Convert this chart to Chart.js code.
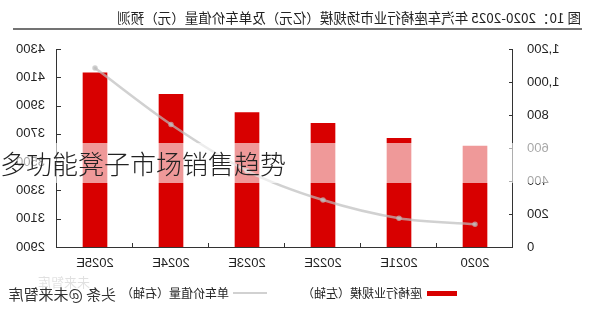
<!DOCTYPE html>
<html>
<head>
<meta charset="utf-8">
<script src="https://cdn.jsdelivr.net/npm/chart.js@4/dist/chart.umd.min.js"></script>
<style>
  body { margin: 0; background: #fff; }
  #wrap { position: relative; width: 600px; height: 315px; overflow: hidden; }
  /* the source picture is a mirrored scan, so the chart is flipped left-right */
  #chart { position: absolute; left: 0; top: 0; transform: scaleX(-1); }
  #band {
    position: absolute; left: 0; top: 143px; width: 600px; height: 40px;
    background: rgba(255, 255, 255, 0.6);
    font-family: "Noto Sans CJK SC", sans-serif; font-size: 26px; font-weight: 300;
    line-height: 40px; color: #222; white-space: nowrap;
  }
</style>
</head>
<body>
<div id="wrap">
  <canvas id="chart" width="600" height="315"></canvas>
  <div id="band">多功能凳子市场销售趋势</div>
</div>
<script>
const categories = ["2020", "2021E", "2022E", "2023E", "2024E", "2025E"];
const marketSize = [612, 659, 750, 814, 925, 1055]; // 座椅行业规模 (亿元), left axis
const unitValue = [3061, 3104, 3232, 3439, 3766, 4165]; // 单车价值量 (元), right axis
const titleText = "图 10：2020-2025 年汽车座椅行业市场规模（亿元）及单车价值量（元）预测";
const sizeLabel = "座椅行业规模（左轴）";
const valueLabel = "单车价值量（右轴）";

const RED = "#d80000";
const GREY = "rgba(190,190,190,0.7)";
const INK = "#222";

Chart.defaults.font.family = 'Arial, "Liberation Sans", "Noto Sans CJK SC", sans-serif';
Chart.defaults.color = INK;

// title, underline, legend, watermark and the inward tick marks
const decorations = {
  id: "decorations",
  afterDraw(chart) {
    const ctx = chart.ctx;
    const area = chart.chartArea;
    ctx.save();

    ctx.strokeStyle = "#333";
    ctx.lineWidth = 1;
    const yL = chart.scales.y;
    yL.ticks.forEach((t) => {
      const py = Math.round(yL.getPixelForValue(t.value)) + 0.5;
      ctx.beginPath(); ctx.moveTo(area.left, py); ctx.lineTo(area.left + 4, py); ctx.stroke();
    });
    const yR = chart.scales.y1;
    yR.ticks.forEach((t) => {
      const py = Math.round(yR.getPixelForValue(t.value)) + 0.5;
      ctx.beginPath(); ctx.moveTo(area.right, py); ctx.lineTo(area.right - 4, py); ctx.stroke();
    });
    const step = (area.right - area.left) / categories.length;
    for (let i = 1; i < categories.length; i++) {
      const px = Math.round(area.left + i * step) + 0.5;
      ctx.beginPath(); ctx.moveTo(px, area.bottom); ctx.lineTo(px, area.bottom - 4); ctx.stroke();
    }

    ctx.fillStyle = INK;
    ctx.textBaseline = "middle";
    ctx.textAlign = "left";
    ctx.font = '13.5px "Noto Sans CJK SC", sans-serif';
    ctx.fillText(titleText, 19, 18);
    ctx.strokeStyle = "#444";
    ctx.lineWidth = 1.5;
    ctx.beginPath(); ctx.moveTo(18, 29); ctx.lineTo(587, 29); ctx.stroke();

    // legend
    ctx.font = '12px "Noto Sans CJK SC", sans-serif';
    ctx.fillStyle = RED;
    ctx.fillRect(143, 291, 30, 5);
    ctx.fillStyle = INK;
    ctx.fillText(chart.data.datasets[0].label, 178, 293);
    ctx.strokeStyle = GREY;
    ctx.lineWidth = 2;
    ctx.beginPath(); ctx.moveTo(333, 293); ctx.lineTo(367, 293); ctx.stroke();
    ctx.fillText(chart.data.datasets[1].label, 371, 293);

    // watermark
    ctx.fillStyle = "rgba(0,0,0,0.12)";
    ctx.font = '13px "Noto Sans CJK SC", sans-serif';
    ctx.fillText("未来智库", 510, 282);
    ctx.fillStyle = "#333";
    ctx.font = '15px "Noto Sans CJK SC", sans-serif';
    ctx.fillText("头条 @未来智库", 484, 294);
    ctx.restore();
  },
};

new Chart(document.getElementById("chart"), {
  type: "bar",
  data: {
    labels: categories,
    datasets: [
      {
        label: sizeLabel,
        data: marketSize,
        backgroundColor: RED,
        barThickness: 24,
        yAxisID: "y",
        order: 2,
      },
      {
        type: "line",
        label: valueLabel,
        data: unitValue,
        borderColor: GREY,
        backgroundColor: GREY,
        borderWidth: 2.5,
        pointRadius: 1.5,
        pointHoverRadius: 1.5,
        cubicInterpolationMode: "monotone",
        yAxisID: "y1",
        order: 1,
      },
    ],
  },
  options: {
    responsive: false,
    animation: false,
    devicePixelRatio: 1,
    layout: { padding: { top: 49, left: 0, right: 0, bottom: 0 } },
    plugins: {
      legend: { display: false },
      title: { display: false },
      tooltip: { enabled: false },
    },
    scales: {
      x: {
        offset: true,
        grid: { display: false, drawTicks: false },
        border: { color: "#333", width: 1 },
        ticks: { font: { size: 13 }, color: INK, padding: 9 },
        afterFit: (s) => { s.height = 68; },
      },
      y: {
        position: "left",
        min: 0,
        max: 1200,
        grid: { display: false, drawTicks: false },
        border: { color: "#333", width: 1 },
        ticks: {
          stepSize: 200,
          font: { size: 13 },
          color: INK,
          padding: 14,
          callback: (v) => v.toLocaleString("en-US"),
        },
        afterFit: (s) => { s.width = 87; },
      },
      y1: {
        position: "right",
        min: 2900,
        max: 4300,
        grid: { display: false, drawTicks: false },
        border: { color: "#333", width: 1 },
        ticks: {
          stepSize: 200,
          font: { size: 13 },
          color: INK,
          padding: 12,
          callback: (v) => String(v),
        },
        afterFit: (s) => { s.width = 57; },
      },
    },
  },
  plugins: [decorations],
});
</script>
</body>
</html>
